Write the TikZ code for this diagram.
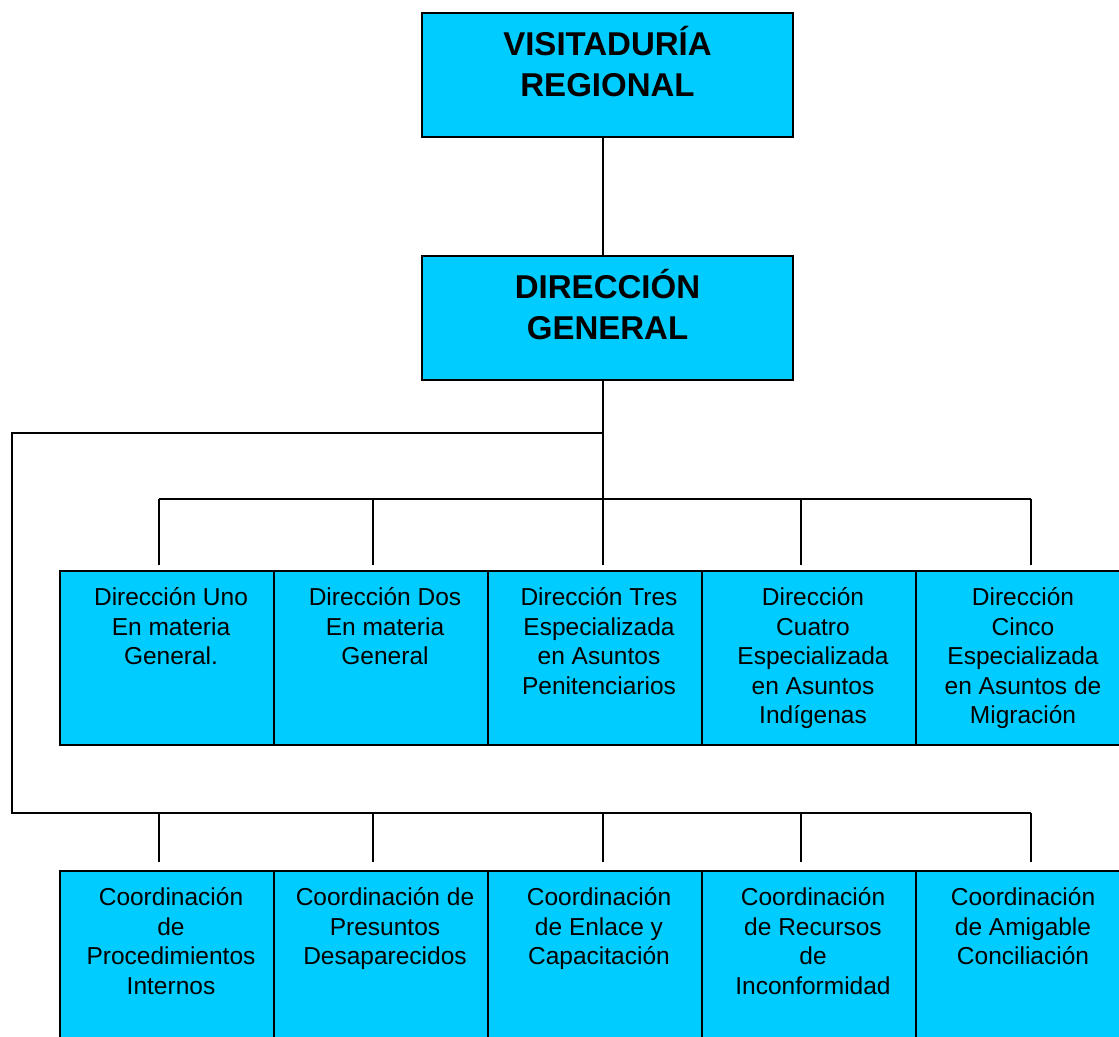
\documentclass[tikz,border=0pt]{standalone}
\usepackage{fontspec}
\setmainfont{Liberation Sans}
\definecolor{celeste}{HTML}{00CCFF}

\begin{document}
\begin{tikzpicture}[x=0.5pt, y=-0.5pt,
  caja/.style={draw, line width=1pt, fill=celeste, inner sep=0pt},
  jefe/.style={caja, minimum width=185.5pt, minimum height=62pt},
  area/.style={caja, minimum width=107pt, minimum height=87pt},
  titulo/.style={anchor=north, inner sep=0pt, align=center,
    font=\fontsize{16.5}{20.5}\selectfont\bfseries},
  texto/.style={anchor=north, inner sep=0pt, align=center, xshift=2pt,
    font=\fontsize{12.25}{14.75}\selectfont},
  linea/.style={line width=0.7pt}]
  \useasboundingbox (0,0) rectangle (1119,1037);

  % mando
  \node[jefe] (vr) at (607.5,75) {};
  \node[titulo] (vrtxt) at ([yshift=-7pt]vr.north) {VISITADURÍA\\REGIONAL};
  \node[jefe] (dg) at (607.5,318) {};
  \node[titulo] (dgtxt) at ([yshift=-7pt]dg.north) {DIRECCIÓN\\GENERAL};

  % direcciones
  \node[area] (d1) at (167,657.5) {};
  \node[texto] (d1txt) at ([yshift=-9pt]d1.north) {Dirección Uno\\En materia\\General.};
  \node[area] (d2) at (381,657.5) {};
  \node[texto] (d2txt) at ([yshift=-9pt]d2.north) {Dirección Dos\\En materia\\General};
  \node[area] (d3) at (595,657.5) {};
  \node[texto] (d3txt) at ([yshift=-9pt]d3.north) {Dirección Tres\\Especializada\\en Asuntos\\Penitenciarios};
  \node[area] (d4) at (809,657.5) {};
  \node[texto] (d4txt) at ([yshift=-9pt]d4.north) {Dirección\\Cuatro\\Especializada\\en Asuntos\\Indígenas};
  \node[area, minimum width=103pt] (d5) at (1019,657.5) {};
  \node[texto] (d5txt) at ([yshift=-9pt]d5.north) {Dirección\\Cinco\\Especializada\\en Asuntos de\\Migración};

  % coordinaciones
  \node[area] (c1) at (167,957.5) {};
  \node[texto] (c1txt) at ([yshift=-9pt]c1.north) {Coordinación\\de\\Procedimientos\\Internos};
  \node[area] (c2) at (381,957.5) {};
  \node[texto] (c2txt) at ([yshift=-9pt]c2.north) {Coordinación de\\Presuntos\\Desaparecidos};
  \node[area] (c3) at (595,957.5) {};
  \node[texto] (c3txt) at ([yshift=-9pt]c3.north) {Coordinación\\de Enlace y\\Capacitación};
  \node[area] (c4) at (809,957.5) {};
  \node[texto] (c4txt) at ([yshift=-9pt]c4.north) {Coordinación\\de Recursos\\de\\Inconformidad};
  \node[area, minimum width=103pt] (c5) at (1019,957.5) {};
  \node[texto] (c5txt) at ([yshift=-9pt]c5.north) {Coordinación\\de Amigable\\Conciliación};

  % lineas
  \coordinate (eje) at (603,0);
  \coordinate (ramal) at (12,433);
  \coordinate (barraA) at (603,499);
  \coordinate (barraB) at (12,813);
  \coordinate (k1) at (159,0);
  \coordinate (k2) at (373,0);
  \coordinate (k4) at (801,0);
  \coordinate (k5) at (1031,0);

  \draw[linea] (vr.south -| eje) -- (dg.north -| eje);
  \draw[linea] (dg.south -| eje) -- ([yshift=2.5pt]d3.north -| eje);
  \draw[linea] (ramal -| eje) -- (ramal) -- (barraB) -- (barraB -| k5);
  \draw[linea] (barraA -| k1) -- (barraA -| k5);

  \draw[linea] (barraA -| k1) -- ([yshift=2.5pt]d1.north -| k1);
  \draw[linea] (barraA -| k2) -- ([yshift=2.5pt]d2.north -| k2);
  \draw[linea] (barraA -| k4) -- ([yshift=2.5pt]d4.north -| k4);
  \draw[linea] (barraA -| k5) -- ([yshift=2.5pt]d5.north -| k5);

  \draw[linea] (barraB -| k1) -- ([yshift=4pt]c1.north -| k1);
  \draw[linea] (barraB -| k2) -- ([yshift=4pt]c2.north -| k2);
  \draw[linea] (barraB -| eje) -- ([yshift=4pt]c3.north -| eje);
  \draw[linea] (barraB -| k4) -- ([yshift=4pt]c4.north -| k4);
  \draw[linea] (barraB -| k5) -- ([yshift=4pt]c5.north -| k5);
\end{tikzpicture}
\end{document}
